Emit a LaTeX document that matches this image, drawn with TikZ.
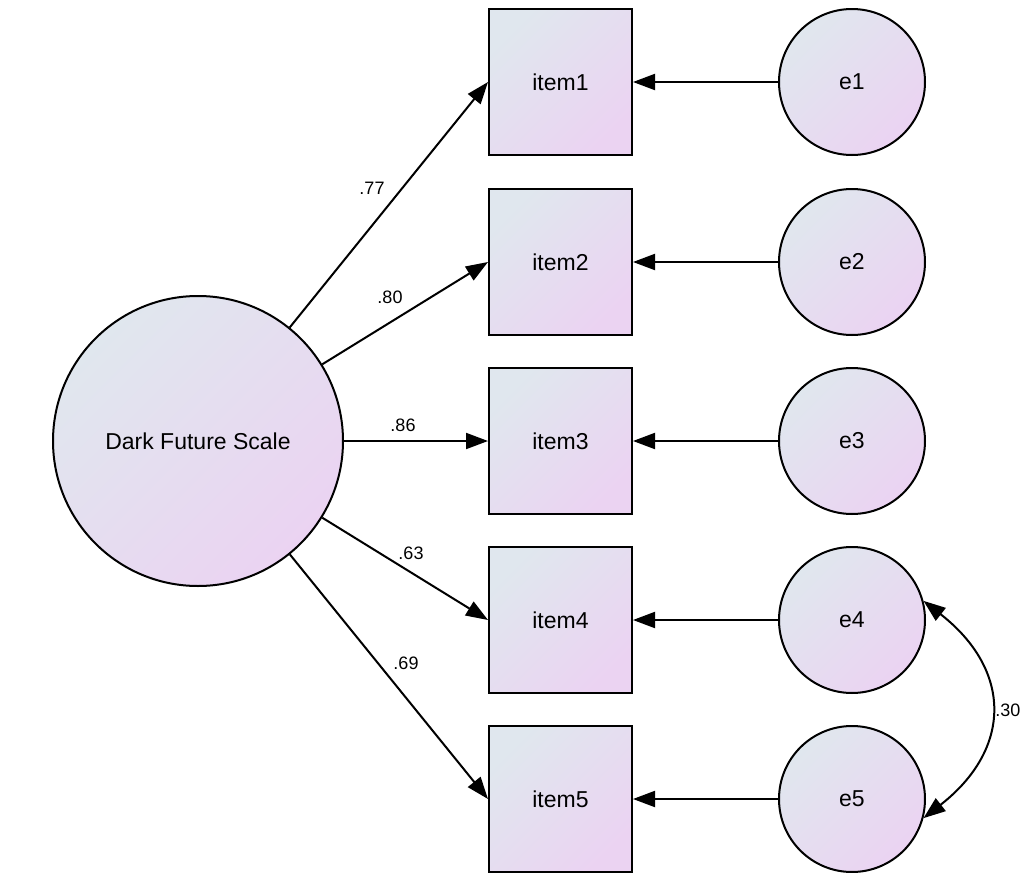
\documentclass[tikz,border=0pt]{standalone}
\usepackage{fontspec}
\setmainfont{Liberation Sans}
\usetikzlibrary{arrows.meta,positioning,shapes}
\definecolor{semtop}{RGB}{224,231,238}
\definecolor{sembot}{RGB}{235,211,242}

\begin{document}
\begin{tikzpicture}[x=0.5pt,y=0.5pt,
    semfill/.style={top color=semtop, bottom color=sembot, shading angle=45},
    obs/.style={draw, line width=1pt, semfill, minimum width=71.5pt, minimum height=73pt, inner sep=0pt, font=\fontsize{11.5}{13}\selectfont},
    err/.style={draw, circle, line width=1pt, semfill, minimum size=73pt, inner sep=0pt, font=\fontsize{11.5}{13}\selectfont},
    lat/.style={draw, circle, line width=1pt, semfill, minimum size=145pt, inner sep=0pt, font=\fontsize{11.5}{13}\selectfont},
    load/.style={line width=1pt, -{Triangle[length=11pt,width=8pt]}},
    cov/.style={line width=1pt, {Triangle[length=11pt,width=8pt]}-{Triangle[length=11pt,width=8pt]}},
    lbl/.style={font=\fontsize{9}{10}\selectfont, inner sep=1pt}
]
    \useasboundingbox (0,0) rectangle (1025,-873);

    % Latent factor
    \node[lat] (dfs) at (198,-441) {Dark Future Scale};

    % Observed items
    \node[obs] (item1) at (560.5,-82) {item1};
    \node[obs] (item2) at (560.5,-262) {item2};
    \node[obs] (item3) at (560.5,-441) {item3};
    \node[obs] (item4) at (560.5,-620) {item4};
    \node[obs] (item5) at (560.5,-799) {item5};

    % Error terms
    \node[err] (e1) at (852,-82) {e1};
    \node[err] (e2) at (852,-262) {e2};
    \node[err] (e3) at (852,-441) {e3};
    \node[err] (e4) at (852,-620) {e4};
    \node[err] (e5) at (852,-799) {e5};

    % Loadings
    \draw[load] (dfs) -- (item1.west);
    \draw[load] (dfs) -- (item2.west);
    \draw[load] (dfs) -- (item3.west);
    \draw[load] (dfs) -- (item4.west);
    \draw[load] (dfs) -- (item5.west);
    \node[lbl] (w1) at (372,-188) {.77};
    \node[lbl] (w2) at (390,-297) {.80};
    \node[lbl] (w3) at (403,-425) {.86};
    \node[lbl] (w4) at (411,-553) {.63};
    \node[lbl] (w5) at (406,-663) {.69};

    % Errors to items
    \draw[load] (e1) -- (item1);
    \draw[load] (e2) -- (item2);
    \draw[load] (e3) -- (item3);
    \draw[load] (e4) -- (item4);
    \draw[load] (e5) -- (item5);

    % Error covariance
    \draw[cov] (e4.15) to[out=-38, in=38, looseness=1.33] (e5.-15);
    \node[lbl, anchor=west] (r45) at (993,-710) {.30};
\end{tikzpicture}
\end{document}
